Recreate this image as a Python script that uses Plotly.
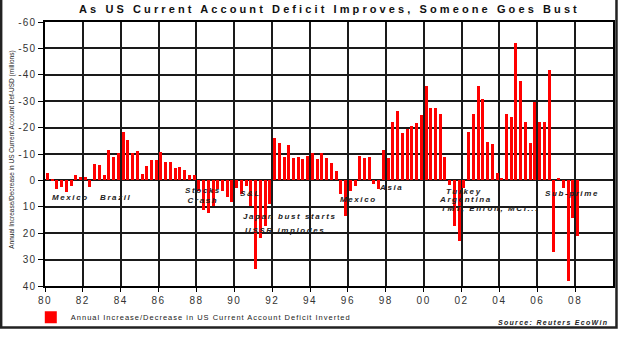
import plotly.graph_objects as go
import pandas as pd

# ---------------- data ----------------
start_quarter = "1980Q1"
# Annual increase/decrease in US current account deficit, inverted (USD bn, axis reversed)
values = [
    -2.8, -0.4, 3.3, 2.4, 4.5, 2.2, -2.1, -1.4, -1.4, 2.4,
    -6.2, -5.7, -2.1, -11.5, -8.8, -10.4, -18.4, -15.2, -10.4, -11.3,
    -2.6, -5.4, -7.9, -7.9, -10.8, -6.9, -6.9, -4.7, -5.0, -4.1,
    -2.1, -2.1, 4.0, 11.2, 12.4, 9.8, 3.1, 4.0, 6.1, 8.0,
    3.0, 5.0, 2.0, 9.8, 33.7, 22.0, 17.4, 9.0, -16.2, -14.2,
    -8.8, -13.5, -8.4, -8.8, -8.0, -9.2, -10.4, -8.0, -10.4, -8.4,
    -6.5, -3.5, 5.3, 13.6, 4.0, 2.2, -9.2, -8.5, -8.8, 1.2,
    3.1, -11.7, -8.3, -22.3, -26.3, -17.8, -19.3, -20.7, -21.7, -24.7,
    -35.6, -27.5, -27.5, -25.0, -8.8, 1.8, 17.2, 23.0, 3.0, -18.5,
    -25.0, -35.6, -30.9, -14.6, -13.9, -2.7, -0.9, -25.0, -23.9, -51.9,
    -37.5, -22.0, -14.2, -29.8, -22.0, -22.0, -41.7, 27.1, -1.1, 2.8,
    38.0, 14.4, 20.9,
]
x_tick_years = [1980, 1982, 1984, 1986, 1988, 1990, 1992, 1994, 1996,
                1998, 2000, 2002, 2004, 2006, 2008]
x_tick_labels = ["80", "82", "84", "86", "88", "90", "92", "94", "96",
                 "98", "00", "02", "04", "06", "08"]
y_tick_values = [-60, -50, -40, -30, -20, -10, 0, 10, 20, 30, 40]
y_tick_labels = ["-60", "-50", "-40", "-30", "-20", "-10", "0", "10", "20", "30", "40"]

event_labels = ["Mexico", "Brazil", "Stocks<br>Crash", "S&amp;L", "Japan bust starts",
                "USSR implodes", "Mexico", "Asia", "Turkey", "Argentina",
                "TMT, Enron, MCI...", "Sub-prime"]
event_x = [1980.26, 1982.8, 1988.37, 1990.2, 1990.37, 1990.47, 1995.47, 1997.53,
           2001.1, 2000.68, 2000.79, 2006.3]
event_y = [6.4, 6.4, 5.7, 4.9, 13.8, 19.0, 7.2, 2.7, 4.2, 7.2, 10.5, 4.9]

title_text = "As US Current Account Deficit Improves, Someone Goes Bust"
series_name = "Annual Increase/Decrease in US Current Account Deficit Inverted"
y_title = "Annual Increase/Decrease in US Current Account Def-USD (millions)"
source_text = "Source: Reuters EcoWin"

# ---------------- build ----------------
quarters = pd.period_range(start_quarter, periods=len(values), freq="Q")
x_pos = [q.year + (q.quarter - 1) / 4 + 0.125 for q in quarters]

FONT = "Liberation Sans, Arial, sans-serif"


def spaced(t, ls):
    return f'<span style="letter-spacing:{ls}px">{t}</span>'


fig = go.Figure()
fig.add_trace(go.Bar(
    x=x_pos, y=values, width=0.16,
    marker=dict(color="#ff0000", line=dict(width=0)),
    name=spaced(series_name, 1.0),
    showlegend=True,
))

W, H = 620, 337
L, R, T, B = 45, 5, 22, 44
pw, ph = W - L - R, H - T - B

GRID = "#1a1a1a"
fig.update_layout(
    width=W, height=H,
    margin=dict(l=L, r=R, t=T, b=B),
    paper_bgcolor="white", plot_bgcolor="white",
    font=dict(family=FONT, size=10, color="#222"),
    bargap=0,
    showlegend=True,
    legend=dict(x=-0.025, y=(H - B - 325) / ph, xanchor="left", yanchor="middle",
                orientation="h", font=dict(size=7.5, color="#222"),
                bgcolor="rgba(0,0,0,0)", itemwidth=30),
    xaxis=dict(
        range=[1980, 2010], tickmode="array",
        tickvals=x_tick_years, ticktext=[spaced(t, 1.5) for t in x_tick_labels],
        showgrid=True, gridcolor=GRID, gridwidth=1.5,
        showline=True, linecolor="black", linewidth=1.5, mirror=True,
        ticks="outside", ticklen=4, tickcolor="black", tickwidth=1,
        tickfont=dict(size=10, color="#333"), zeroline=False,
    ),
    yaxis=dict(
        range=[40, -60], tickmode="array",
        tickvals=y_tick_values, ticktext=[spaced(t, 1.2) for t in y_tick_labels],
        showgrid=True, gridcolor=GRID, gridwidth=1.5,
        showline=True, linecolor="black", linewidth=1.5, mirror=True,
        ticks="outside", ticklen=5, tickcolor="black", tickwidth=1,
        tickfont=dict(size=10, color="#333"), zeroline=False,
    ),
)

# title
fig.add_annotation(text="<b>" + spaced(title_text, 3.1) + "</b>", xref="paper", yref="paper",
                   x=(330 - L) / pw, y=(H - B - 9) / ph, xanchor="center", yanchor="middle",
                   showarrow=False, font=dict(size=11, color="#111"))
# y-axis title
fig.add_annotation(text=y_title, xref="paper", yref="paper",
                   x=(12 - L) / pw, y=(H - B - 153) / ph, xanchor="center", yanchor="middle",
                   textangle=-90, showarrow=False, font=dict(size=6.5, color="#222"))
# source
fig.add_annotation(text="<i><b>" + spaced(source_text, 1.3) + "</b></i>", xref="paper", yref="paper",
                   x=(612 - L) / pw, y=(H - B - 330) / ph, xanchor="right", yanchor="middle",
                   showarrow=False, font=dict(size=7, color="#222"))
# event labels
for t, ex, ey in zip(event_labels, event_x, event_y):
    fig.add_annotation(text="<i><b>" + spaced(t, 1.6) + "</b></i>", x=ex, y=ey, xref="x", yref="y",
                       xanchor="center" if "<br>" in t else "left", yanchor="middle",
                       align="center", showarrow=False, font=dict(size=8, color="#222"))

# outer frame
fx0, fx1 = (1 - L) / pw, (618.5 - L) / pw
fy0, fy1 = (H - B - 335.5) / ph, (H - B + 10) / ph
fig.add_shape(type="path", xref="paper", yref="paper",
              path=f"M {fx0} {fy1} L {fx0} {fy0} L {fx1} {fy0} L {fx1} {fy1}",
              line=dict(color="#222", width=2.5))

fig.write_html("out.html")
